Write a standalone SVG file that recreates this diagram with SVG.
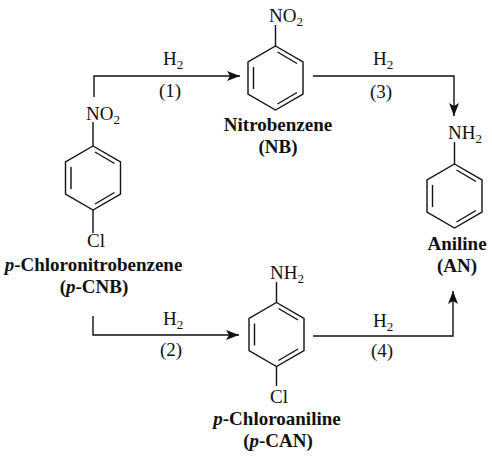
<svg xmlns="http://www.w3.org/2000/svg" width="492" height="457" viewBox="0 0 492 457">
<style>
text{font-family:"Liberation Serif","Times New Roman",serif;font-size:19px;fill:#111}
.b{font-weight:bold;text-anchor:middle}
.m{text-anchor:middle}
.s{font-size:13px}
.i{font-style:italic}
.bond{fill:none;stroke:#111;stroke-width:1.4}
.conn{fill:none;stroke:#111;stroke-width:1.4}
</style>
<defs>
<marker id="ah" markerUnits="userSpaceOnUse" markerWidth="14" markerHeight="12" refX="13" refY="6" orient="auto"><path d="M0 1 L13 6 L0 11 L3 6 Z" fill="#111"/></marker>
<path id="ring" class="bond" d="M0 -32 L27.5 -16 L27.5 16 L0 32 L-27.5 16 L-27.5 -16 Z M-22 -11 L-22 11 M2 -26 L21.5 -14.5 M2 26 L21.5 14.5"/>
</defs>
<g id="connectors">
<path class="conn" marker-end="url(#ah)" d="M94 97 V76 H240"/>
<path class="conn" marker-end="url(#ah)" d="M313 76 H454 V116"/>
<path class="conn" marker-end="url(#ah)" d="M93 316 V335 H239"/>
<path class="conn" marker-end="url(#ah)" d="M313 336 H453 V291"/>
<text x="163" y="65">H<tspan class="s" dy="4">2</tspan></text>
<text x="170" y="97" class="m">(1)</text>
<text x="373" y="65">H<tspan class="s" dy="4">2</tspan></text>
<text x="381" y="98" class="m">(3)</text>
<text x="163" y="325">H<tspan class="s" dy="4">2</tspan></text>
<text x="171" y="356" class="m">(2)</text>
<text x="373" y="327">H<tspan class="s" dy="4">2</tspan></text>
<text x="382" y="357" class="m">(4)</text>
</g>
<g id="pCNB">
<use href="#ring" x="93" y="178"/>
<path class="bond" d="M93 146 V122 M93 210 V233"/>
<text x="86" y="120">NO<tspan class="s" dy="4">2</tspan></text>
<text x="96" y="247" class="m">Cl</text>
<text x="93.500" y="271" class="b"><tspan class="i">p</tspan>-Chloronitrobenzene</text>
<text x="94" y="293" class="b">(<tspan class="i">p</tspan>-CNB)</text>
</g>
<g id="NB">
<use href="#ring" x="275.500" y="78"/>
<path class="bond" d="M275.500 47 V25"/>
<text x="269" y="22">NO<tspan class="s" dy="4">2</tspan></text>
<text x="278" y="131" class="b">Nitrobenzene</text>
<text x="278" y="153" class="b">(NB)</text>
</g>
<g id="AN">
<use href="#ring" x="454.500" y="196"/>
<path class="bond" d="M454.500 165 V142"/>
<text x="448" y="139">NH<tspan class="s" dy="4">2</tspan></text>
<text x="457" y="250" class="b">Aniline</text>
<text x="457" y="272" class="b">(AN)</text>
</g>
<g id="pCAN">
<use href="#ring" x="276.500" y="334.500"/>
<path class="bond" d="M276.500 303 V282 M276.500 366 V386"/>
<text x="270" y="279">NH<tspan class="s" dy="4">2</tspan></text>
<text x="279" y="403" class="m">Cl</text>
<text x="277" y="425" class="b"><tspan class="i">p</tspan>-Chloroaniline</text>
<text x="278" y="447" class="b">(<tspan class="i">p</tspan>-CAN)</text>
</g>
</svg>
